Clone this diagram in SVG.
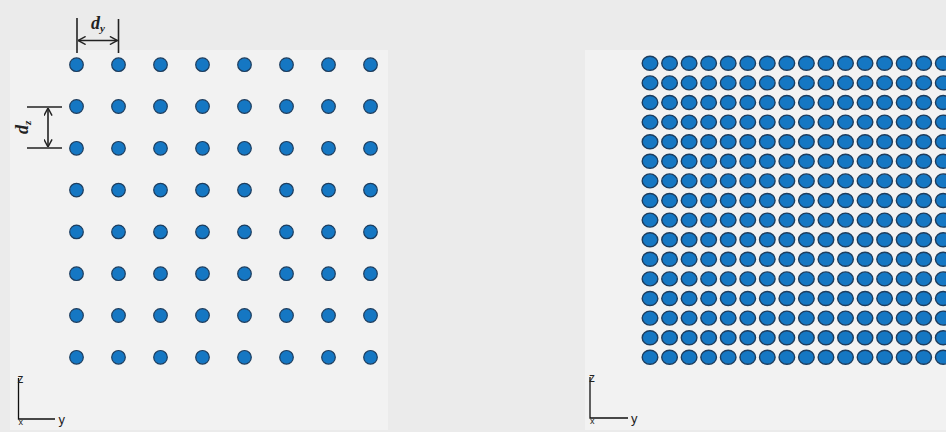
<svg xmlns="http://www.w3.org/2000/svg" xmlns:xlink="http://www.w3.org/1999/xlink" width="946" height="432" viewBox="0 0 946 432">
<style>
.panel{fill:#f2f2f2}
.dotL{fill:#1577c3;stroke:#1d3d5e;stroke-width:1.2}
.dotR{fill:#1577c3;stroke:#1d3d5e;stroke-width:1.4}
.dim{stroke:#222;stroke-width:1.6;fill:none}
.axis{stroke:#111;stroke-width:1.3;fill:none}
.ax{font-family:"Liberation Sans",Arial,sans-serif;fill:#222}
.lab{font-family:"Liberation Serif","Times New Roman",serif;font-style:italic;font-weight:bold;fill:#222}
</style>
<defs>
<marker id="ah" viewBox="0 0 10 10" refX="9.5" refY="5" markerWidth="9" markerHeight="9" markerUnits="userSpaceOnUse" orient="auto-start-reverse">
<path d="M1,0.5 L9.5,5 L1,9.5" fill="none" stroke="#222" stroke-width="1.6"/>
</marker>
<circle id="dl" class="dotL" r="6.8"/>
<ellipse id="dr" class="dotR" rx="7.8" ry="7"/>
<g id="rowL">
<use xlink:href="#dl" x="76.5"/><use xlink:href="#dl" x="118.5"/><use xlink:href="#dl" x="160.5"/><use xlink:href="#dl" x="202.5"/>
<use xlink:href="#dl" x="244.5"/><use xlink:href="#dl" x="286.5"/><use xlink:href="#dl" x="328.5"/><use xlink:href="#dl" x="370.5"/>
</g>
<g id="rowR">
<use xlink:href="#dr" x="650"/><use xlink:href="#dr" x="669.55"/><use xlink:href="#dr" x="689.1"/><use xlink:href="#dr" x="708.65"/>
<use xlink:href="#dr" x="728.2"/><use xlink:href="#dr" x="747.75"/><use xlink:href="#dr" x="767.3"/><use xlink:href="#dr" x="786.85"/>
<use xlink:href="#dr" x="806.4"/><use xlink:href="#dr" x="825.95"/><use xlink:href="#dr" x="845.5"/><use xlink:href="#dr" x="865.05"/>
<use xlink:href="#dr" x="884.6"/><use xlink:href="#dr" x="904.15"/><use xlink:href="#dr" x="923.7"/><use xlink:href="#dr" x="943.25"/>
</g>
</defs>
<rect x="0" y="0" width="946" height="432" fill="#ebebeb"/>

<g id="panel-left">
<rect class="panel" x="10" y="50" width="378" height="380"/>
<g id="grid-left">
<use xlink:href="#rowL" y="64.7"/><use xlink:href="#rowL" y="106.5"/><use xlink:href="#rowL" y="148.3"/><use xlink:href="#rowL" y="190.1"/>
<use xlink:href="#rowL" y="231.9"/><use xlink:href="#rowL" y="273.7"/><use xlink:href="#rowL" y="315.5"/><use xlink:href="#rowL" y="357.3"/>
</g>
<g id="axes-left">
<path class="axis" d="M18.5,378 V419 H55"/>
<text class="ax" x="17.5" y="383" font-size="12">z</text>
<text class="ax" x="58.5" y="424" font-size="13">y</text>
<text class="ax" x="18.5" y="425" font-size="9">x</text>
</g>
</g>

<g id="panel-right">
<rect class="panel" x="585" y="50" width="361" height="380"/>
<g id="grid-right">
<use xlink:href="#rowR" y="63.3"/><use xlink:href="#rowR" y="82.9"/><use xlink:href="#rowR" y="102.5"/><use xlink:href="#rowR" y="122.1"/>
<use xlink:href="#rowR" y="141.7"/><use xlink:href="#rowR" y="161.3"/><use xlink:href="#rowR" y="180.9"/><use xlink:href="#rowR" y="200.5"/>
<use xlink:href="#rowR" y="220.1"/><use xlink:href="#rowR" y="239.7"/><use xlink:href="#rowR" y="259.3"/><use xlink:href="#rowR" y="278.9"/>
<use xlink:href="#rowR" y="298.5"/><use xlink:href="#rowR" y="318.1"/><use xlink:href="#rowR" y="337.7"/><use xlink:href="#rowR" y="357.3"/>
</g>
<g id="axes-right">
<path class="axis" d="M590,377 V418 H628"/>
<text class="ax" x="589" y="382" font-size="12">z</text>
<text class="ax" x="631" y="423" font-size="13">y</text>
<text class="ax" x="590" y="424" font-size="9">x</text>
</g>
</g>

<g id="connectors">
<g id="dim-dy">
<line class="dim" x1="77" y1="18" x2="77" y2="53"/>
<line class="dim" x1="118.5" y1="19" x2="118.5" y2="53"/>
<line class="dim" x1="78" y1="40.5" x2="117.5" y2="40.5" marker-start="url(#ah)" marker-end="url(#ah)"/>
<text class="lab" x="91" y="29" font-size="18">d<tspan font-size="11" dy="3">y</tspan></text>
</g>
<g id="dim-dz">
<line class="dim" x1="27" y1="107" x2="62" y2="107"/>
<line class="dim" x1="27" y1="148" x2="62" y2="148"/>
<line class="dim" x1="48" y1="108" x2="48" y2="147" marker-start="url(#ah)" marker-end="url(#ah)"/>
<text class="lab" transform="translate(28,134) rotate(-90)" font-size="18">d<tspan font-size="11" dy="3">z</tspan></text>
</g>
</g>
</svg>
